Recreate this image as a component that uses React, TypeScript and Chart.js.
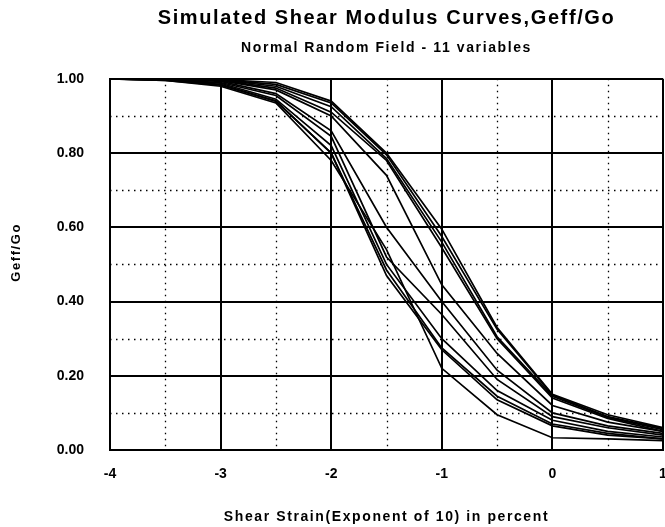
import React, { useEffect, useRef } from 'react';
import { Chart, registerables } from 'chart.js';

Chart.register(...registerables);

// Strain exponent (log10 of shear strain, percent)
const strainExponent = [-4, -3.5, -3, -2.5, -2, -1.5, -1, -0.5, 0, 0.5, 1];

// Simulated Geff/Go curves
const curve1 = [1, 1, 0.998, 0.99, 0.94, 0.8, 0.595, 0.33, 0.15, 0.095, 0.06];
const curve2 = [1, 1, 0.997, 0.985, 0.935, 0.795, 0.575, 0.325, 0.148, 0.09, 0.058];
const curve3 = [1, 1, 0.997, 0.98, 0.925, 0.785, 0.56, 0.305, 0.145, 0.088, 0.055];
const curve4 = [1, 1, 0.996, 0.975, 0.91, 0.78, 0.545, 0.3, 0.14, 0.085, 0.05];
const curve5 = [1, 1, 0.995, 0.97, 0.9, 0.74, 0.445, 0.26, 0.12, 0.075, 0.05];
const curve6 = [1, 1, 0.993, 0.96, 0.86, 0.6, 0.4, 0.215, 0.1, 0.065, 0.045];
const curve7 = [1, 0.998, 0.99, 0.955, 0.845, 0.52, 0.365, 0.19, 0.09, 0.06, 0.04];
const curve8 = [1, 0.997, 0.988, 0.945, 0.82, 0.5, 0.3, 0.16, 0.08, 0.05, 0.035];
const curve9 = [1, 0.997, 0.985, 0.94, 0.8, 0.485, 0.275, 0.145, 0.07, 0.045, 0.03];
const curve10 = [1, 0.996, 0.983, 0.94, 0.8, 0.47, 0.27, 0.135, 0.065, 0.04, 0.03];
const curve11 = [1, 0.996, 0.98, 0.935, 0.78, 0.54, 0.22, 0.095, 0.033, 0.03, 0.025];

const curves = [curve1, curve2, curve3, curve4, curve5, curve6, curve7, curve8, curve9, curve10, curve11];

// Axis ranges / ticks
const xMin = -4;
const xMax = 1;
const xStep = 1;
const yMin = 0;
const yMax = 1;
const yStep = 0.2;
const minorX = [-3.5, -2.5, -1.5, -0.5, 0.5];
const minorY = [0.1, 0.3, 0.5, 0.7, 0.9];

const titleText = 'Simulated Shear Modulus Curves,Geff/Go';
const subtitleText = 'Normal Random Field - 11 variables';
const xTitleText = 'Shear Strain(Exponent of 10) in percent';
const yTitleText = 'Geff/Go';

const FONT = '"Liberation Sans", Arial, Helvetica, sans-serif';
const TITLE_SPACING = '1.6px';

function withSpacing(obj: any, method: string, spacing: string, shiftY = 0) {
  obj.__patched = obj.__patched || {};
  if (obj.__patched[method]) return;
  const orig = obj[method];
  obj[method] = function (...args: any[]) {
    const ctx = this.ctx;
    ctx.save();
    (ctx as any).letterSpacing = spacing;
    if (shiftY) ctx.translate(0, shiftY);
    try {
      return orig.apply(this, args);
    } finally {
      ctx.restore();
    }
  };
  obj.__patched[method] = true;
}

const textSpacingPlugin = {
  id: 'textSpacing',
  beforeDraw(chart: any) {
    chart.boxes.forEach((box: any) => {
      if (typeof box.getPixelForValue !== 'function' && typeof box.draw === 'function') {
        withSpacing(box, 'draw', TITLE_SPACING);
      }
    });
    withSpacing(chart.scales.x, 'drawTitle', TITLE_SPACING);
    withSpacing(chart.scales.y, 'drawTitle', TITLE_SPACING, -12);
  },
};

const minorGridPlugin = {
  id: 'minorGrid',
  beforeDatasetsDraw(chart: any) {
    const { ctx, chartArea: a, scales } = chart;
    const x = scales.x;
    const y = scales.y;
    ctx.save();
    ctx.strokeStyle = '#000';
    ctx.lineWidth = 1.3;
    ctx.setLineDash([1.5, 4.5]);
    ctx.beginPath();
    minorX.forEach((v) => {
      const px = Math.round(x.getPixelForValue(v)) + 0.5;
      ctx.moveTo(px, a.top);
      ctx.lineTo(px, a.bottom);
    });
    minorY.forEach((v) => {
      const py = Math.round(y.getPixelForValue(v)) + 0.5;
      ctx.moveTo(a.left, py);
      ctx.lineTo(a.right, py);
    });
    ctx.stroke();
    ctx.restore();
  },
};

export default function App() {
  const canvasRef = useRef<HTMLCanvasElement | null>(null);

  useEffect(() => {
    document.body.style.margin = '0';
    const canvas = canvasRef.current;
    if (!canvas) return;

    const datasets = curves.map((c, i) => ({
      label: `Curve ${i + 1}`,
      data: c.map((v, j) => ({ x: strainExponent[j], y: v })),
      borderColor: '#000',
      borderWidth: 1.7,
      pointRadius: 0,
      tension: 0,
      fill: false,
    }));

    const chart = new Chart(canvas, {
      type: 'line',
      data: { datasets },
      options: {
        animation: false,
        responsive: false,
        devicePixelRatio: 1,
        layout: { padding: { left: 0, right: 2, top: 0, bottom: 0 } },
        plugins: {
          legend: { display: false },
          tooltip: { enabled: false },
          title: {
            display: true,
            text: titleText,
            fullSize: false,
            color: '#000',
            font: { family: FONT, size: 20, weight: 'bold', lineHeight: 1.2 },
            padding: { top: 6, bottom: 0 },
          },
          subtitle: {
            display: true,
            text: subtitleText,
            fullSize: false,
            color: '#000',
            font: { family: FONT, size: 14, weight: 'bold', lineHeight: 1.2 },
            padding: { top: 10, bottom: 22 },
          },
        },
        scales: {
          x: {
            type: 'linear',
            min: xMin,
            max: xMax,
            ticks: {
              stepSize: xStep,
              color: '#000',
              padding: 16,
              maxRotation: 0,
              autoSkip: false,
              font: { family: FONT, size: 14, weight: 'bold' },
              callback: (v: any) => String(v),
            },
            grid: { color: '#000', lineWidth: 2, drawTicks: false },
            border: { color: '#000', width: 2 },
            title: {
              display: true,
              text: xTitleText,
              color: '#000',
              font: { family: FONT, size: 14, weight: 'bold', lineHeight: 1.2 },
              padding: { top: 0, bottom: 1 },
            },
            afterFit: (s: any) => {
              s.height = 77;
              s.paddingLeft = 0;
              s.paddingRight = 0;
            },
          },
          y: {
            type: 'linear',
            min: yMin,
            max: yMax,
            ticks: {
              stepSize: yStep,
              color: '#000',
              padding: 26,
              font: { family: FONT, size: 14, weight: 'bold' },
              callback: (v: any) => Number(v).toFixed(2),
            },
            grid: { color: '#000', lineWidth: 2, drawTicks: false },
            border: { color: '#000', width: 2 },
            title: {
              display: true,
              text: yTitleText,
              color: '#000',
              font: { family: FONT, size: 13, weight: 'bold', lineHeight: 1.2 },
              padding: { top: 9, bottom: 0 },
            },
            afterFit: (s: any) => {
              s.width = 110;
              s.paddingTop = 0;
              s.paddingBottom = 0;
            },
          },
        },
      },
      plugins: [minorGridPlugin, textSpacingPlugin],
    });

    return () => {
      chart.destroy();
    };
  }, []);

  return (
    <div style={{ width: 665, height: 527, background: '#fff' }}>
      <canvas ref={canvasRef} width={665} height={527} style={{ display: 'block' }} />
    </div>
  );
}
